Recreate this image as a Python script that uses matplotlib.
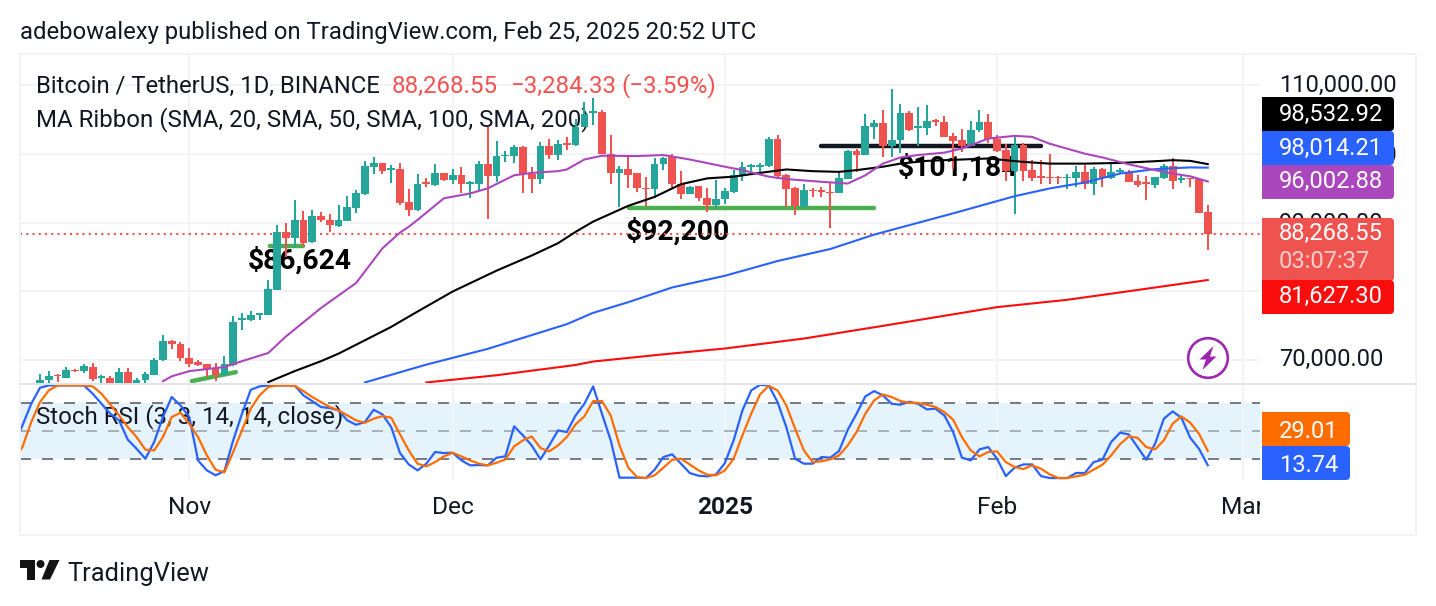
import numpy as np
import matplotlib
matplotlib.use("Agg")
import matplotlib.pyplot as plt
from matplotlib.patches import Rectangle, FancyBboxPatch, Circle, Polygon
from matplotlib.transforms import Affine2D

W, H = 1436, 606
plt.rcParams['font.family'] = ['Roboto', 'DejaVu Sans']

# Daily BTC/USDT candles, in thousands of USD; day 0 is 1 Feb 2025
candle_days = np.arange(-109, 25)
opens = [66.4,67.0,67.85,67.3,68.55,68.3,69.0,67.4,67.35,66.4,68.2,66.4,67.0,67.85,69.9,72.7,72.35,70.3,69.65,69.4,
         68.8,67.75,69.3,75.85,75.75,76.6,76.6,80.2,88.6,87.8,90.4,87.2,90.95,90.45,89.55,90.3,92.15,94.15,98.15,98.75,
         97.7,97.8,92.95,91.85,
         95.95,95.45,97.3,96.2,97.0,95.65,95.6,98.5,96.8,99.7,99.7,101.05,97.15,96.35,101.15,99.85,101.55,101.3,103.95,105.95,
         106.15,100.05,97.25,97.8,97.25,95.1,94.85,98.5,99.6,95.7,94.15,95.3,93.65,92.55,93.5,94.5,96.8,98.05,98.15,98.25,
         102.15,96.9,95.0,92.3,94.75,94.75,
         94.5,94.35,96.4,100.4,99.85,103.95,104.45,101.2,102.1,106.05,103.8,103.85,104.9,104.6,102.6,102.0,101.15,103.45,104.65,
         102.25,100.55,97.5,101.3,97.65,96.7,96.65,96.65,96.45,96.45,97.35,95.6,97.8,96.55,97.4,97.45,96.05,95.85,95.45,96.55,
         98.2,96.15,96.45,96.3,91.55]
highs = [68.0,68.4,68.0,69.0,68.7,69.4,69.5,67.85,67.6,68.8,68.8,67.4,68.2,70.3,73.6,72.95,72.55,71.65,69.9,69.45,
         69.55,70.6,76.4,76.85,77.1,76.85,81.65,89.6,89.9,93.3,91.7,91.8,91.55,91.3,92.55,93.85,94.75,98.95,99.5,98.75,
         98.45,98.75,94.85,97.15,
         96.45,98.5,97.3,97.8,98.05,96.1,98.95,103.95,101.85,100.45,101.3,101.15,98.15,101.75,102.25,102.0,102.5,105.15,107.6,108.2,
         106.45,102.75,98.2,99.6,97.3,96.6,99.45,99.6,99.95,97.5,95.3,95.3,95.0,96.2,95.0,97.65,98.85,98.6,98.7,102.5,
         102.75,97.15,95.2,95.7,95.1,95.25,
         95.85,97.4,100.55,100.7,105.8,104.9,106.35,109.5,107.25,106.25,106.8,107.1,105.15,105.5,103.1,103.7,104.75,106.35,105.9,
         102.75,101.4,102.5,101.65,99.1,99.1,100.05,96.75,97.15,98.2,98.35,98.05,98.0,98.85,97.9,97.65,97.0,96.75,96.7,98.6,
         99.35,96.75,96.5,96.5,92.55]
lows = [66.0,66.4,66.7,67.3,68.2,68.15,66.9,66.6,66.2,66.2,66.0,66.2,66.6,67.75,69.8,71.6,69.8,68.95,69.05,67.55,
        66.9,67.6,69.15,74.4,75.6,75.75,76.5,80.2,85.05,86.25,86.6,87.1,90.15,88.6,89.3,90.3,91.45,94.0,97.05,97.05,
        95.8,92.55,90.9,91.75,
        95.25,95.3,96.1,95.6,94.25,93.65,94.65,90.6,95.85,98.85,98.7,94.25,94.25,95.7,99.25,99.1,100.65,101.15,103.95,104.2,
        100.0,95.6,92.3,95.0,94.5,92.45,93.65,97.65,95.0,93.45,94.15,93.15,91.6,92.05,92.7,94.35,96.1,97.5,97.25,98.15,
        96.3,92.3,91.1,92.15,93.75,93.75,
        89.25,94.35,96.3,97.4,99.85,102.15,99.6,99.6,100.15,103.35,101.15,102.75,104.1,102.5,97.75,100.3,101.15,103.2,101.6,
        100.3,96.1,91.25,96.1,96.1,95.7,95.7,95.7,94.85,95.2,94.9,94.0,95.2,96.3,97.05,95.9,95.15,93.3,95.05,96.3,
        94.85,95.8,95.15,91.35,86.0]
closes = [67.1,67.7,67.6,68.45,68.3,69.05,67.2,67.6,66.4,68.2,66.4,67.0,67.9,70.0,72.75,72.25,70.2,69.4,69.25,68.7,
          67.75,69.4,75.5,76.1,76.6,76.85,80.3,88.6,87.8,90.4,87.1,90.95,90.4,89.65,90.4,92.25,94.25,98.2,98.75,97.5,
          97.9,92.9,91.85,95.7,
          95.7,97.3,96.2,97.0,95.6,95.85,98.5,96.8,99.65,99.9,101.05,97.05,96.35,101.15,99.85,101.45,101.25,103.95,105.9,106.25,
          100.0,97.25,97.75,97.0,95.0,94.85,98.6,99.35,95.6,94.15,95.2,93.6,92.55,93.5,94.6,96.9,98.05,98.35,98.35,102.15,
          96.8,94.9,92.45,94.75,94.55,94.5,
          94.3,96.45,100.4,99.85,104.05,104.45,101.2,102.1,106.05,103.45,104.05,104.75,104.65,102.5,101.9,101.2,103.55,104.65,102.15,
          100.4,97.5,101.3,97.5,96.55,96.55,96.45,96.45,96.65,97.35,95.6,97.8,96.55,97.4,97.65,95.95,95.55,95.65,96.6,98.2,
          96.1,96.5,96.3,91.45,88.26855]

# Moving-average ribbon, read at irregular days
sma20_days = [-95,-94,-92,-88,-86,-83,-81,-77,-73,-70,-68,-67,-66,-65,-63,-60,-58,-55,-53,-50,-49,-47,-45,-41,-38,-35,
              -31,-29,-26,-24,-20,-17,-15,-13,-11,-9,-6,-4,-1,2,4,6,10,12,15,18,20,22,24]
sma20 = [66.88,67.6,68.35,68.95,69.8,71.0,73.4,77.55,81.2,86.25,88.55,89.4,90.4,91.45,93.55,94.25,95.0,96.9,97.25,97.5,
         97.75,99.2,99.75,99.7,99.85,99.2,98.15,97.65,96.7,96.35,95.95,95.7,96.9,98.6,99.5,99.85,100.2,100.8,102.25,102.65,
         102.5,101.5,100.05,99.5,98.5,97.65,97.15,96.75,96.0]
sma50_days = [-83,-80,-77,-75,-72,-69,-67,-62,-57,-53,-50,-48,-46,-42,-39,-36,-33,-30,-27,-24,-21,-18,-16,-13,-11,-8,-1,
              3,6,10,14,18,20,22,24]
sma50 = [66.75,68.35,69.8,70.9,72.85,74.8,76.3,79.96,83.0,85.2,87.0,88.65,90.15,92.45,93.75,95.6,96.45,96.7,97.25,97.75,
         97.5,97.4,97.65,98.15,98.6,99.0,99.35,98.85,98.6,98.6,98.7,98.95,99.1,99.0,98.53]
sma100_days = [-72,-65,-58,-53,-49,-46,-42,-37,-31,-25,-19,-14,-5,2,6,10,14,18,22,24]
sma100 = [66.7,69.3,71.6,73.6,75.2,76.85,78.4,80.55,82.25,84.4,86.15,88.25,91.35,93.85,94.98,95.85,97.15,97.8,98.05,98.01]
sma200_days = [-65,-57,-48,-46,-38,-31,-22,-13,0,8,15,24]
sma200 = [66.7,67.75,69.25,69.75,70.8,71.65,73.1,74.95,77.68,78.75,80.0,81.63]

# Stochastic RSI, one value per day from day -112
stoch_days = np.arange(-112, 25)
stoch_k = [35.0,56.4,79.6,96.8,99.3,99.3,99.3,99.3,99.3,90.4,79.6,68.9,61.8,41.1,31.4,20.7,38.6,65.4,86.8,77.9,65.4,
           18.9,8.2,2.9,7.5,40.4,68.9,94.6,98.2,99.3,99.3,99.3,99.3,88.6,82.5,76.1,75.0,72.5,61.8,57.1,60.0,73.2,68.2,
           54.6,26.8,14.6,8.2,15.4,27.9,26.8,27.1,18.9,13.6,13.9,13.6,21.8,23.2,55.4,45.7,35.0,20.0,35.0,51.1,49.3,67.1,
           79.6,98.2,68.9,40.4,0.4,0.4,0.4,0.0,8.9,22.5,25.4,15.4,5.4,2.5,1.8,3.9,16.1,40.4,72.5,93.9,99.9,99.3,81.4,54.6,
           20.7,15.4,15.4,22.5,21.8,28.9,51.8,68.9,87.5,93.2,88.6,79.6,78.6,81.8,79.6,73.6,74.3,67.1,49.3,21.8,18.9,30.7,
           33.2,20.7,2.1,11.1,14.6,14.6,2.1,0.0,0.0,0.0,5.4,5.4,17.1,19.6,38.6,48.6,46.8,33.2,19.6,36.8,63.6,71.4,64.6,
           43.2,31.4,13.74]
stoch_d = [20.0,33.2,60.0,81.4,93.9,99.3,99.3,99.3,99.3,98.2,90.4,78.9,67.1,54.6,43.9,30.4,29.6,43.9,65.4,70.0,58.2,
           43.9,24.3,8.9,6.1,27.9,51.1,74.3,88.6,97.5,99.3,99.3,98.9,93.2,86.8,81.4,76.1,72.5,67.1,61.8,59.3,63.6,66.4,
           64.6,46.8,29.6,15.4,12.5,17.1,23.2,27.1,23.2,18.9,15.4,13.6,16.4,20.0,33.9,40.4,44.6,32.1,28.6,35.0,43.9,57.5,
           66.1,82.5,82.5,67.1,35.0,11.1,1.1,0.0,2.9,11.1,19.6,20.7,14.6,8.2,3.6,2.9,8.2,20.7,45.7,68.9,89.6,98.9,93.9,77.9,
           52.9,29.6,17.1,17.9,20.0,24.3,35.0,49.3,68.9,83.2,89.6,86.8,82.5,80.7,80.4,78.6,76.1,70.7,62.5,43.9,29.6,23.2,
           27.9,28.6,17.1,11.8,9.6,13.6,10.0,3.9,0.0,0.0,1.8,3.6,8.9,14.3,24.3,36.1,44.6,43.2,33.2,30.7,40.4,58.2,66.1,59.3,
           47.5,29.01]

price_ticks = [70, 80, 90, 100, 110]
month_days = [-92, -62, -31, 0, 28]
month_labels = ['Nov', 'Dec', '2025', 'Feb', 'Mar']

# Support and resistance drawings: (start day, end day), (start price, end price)
support_days = [[-91.7, -86.7], [-82.8, -79.1], [-41.9, -14.0]]
support_prices = [[66.9, 68.2], [86.62, 86.62], [92.2, 92.2]]
resist_days = [-20.0, 5.0]
resist_prices = [101.18, 101.18]

CANDLE_UP, CANDLE_DOWN = '#26a69a', '#ef5350'
INK = '#131722'
GRID = '#f1f3f6'
BLUE, PURPLE, RED, ORANGE = '#2962ff', '#ab47bc', '#f90d0d', '#ff6d00'

fig = plt.figure(figsize=(W / 100, H / 100), dpi=100, facecolor='white')
PX = Affine2D().scale(1, -1).translate(0, H)  # figure pixels, y downwards


def add_axes(x0, y0, x1, y1, **kw):
    ax = fig.add_axes([x0 / W, 1 - y1 / H, (x1 - x0) / W, (y1 - y0) / H], **kw)
    ax.set_axis_off()
    ax.patch.set_visible(False)
    return ax


def fs(px):
    return px * 0.72


UI = fs(23.8)
LEGEND = fs(24)
XLIM = (-111.28, 29.95)
ax_price = add_axes(20, 54, 1260, 383)
ax_price.set_xlim(*XLIM)
ax_price.set_ylim(66.62, 114.58)
ax_stoch = add_axes(20, 384, 1260, 480)
ax_stoch.set_xlim(*XLIM)
ax_stoch.set_ylim(-2.1, 100.8)
ax_time = add_axes(20, 480, 1260, 535)
ax_time.set_xlim(*XLIM)
ax_time.set_ylim(0, 1)
ax_labels = add_axes(0, 0, W, H)
ax_labels.set_xlim(0, W)
ax_labels.set_ylim(H, 0)

# Frame and pane separator
for seg in (((20, 20), (54, 535)), ((1416, 1416), (54, 535)), ((20, 1416), (54, 54)), ((20, 1416), (535, 535))):
    ax_labels.plot(seg[0], seg[1], color=GRID, lw=1.44, zorder=0)
ax_labels.plot((20, 1416), (384, 384), color='#e0e3eb', lw=1.44, zorder=0.5)

# Grid
for p in price_ticks:
    ax_price.axhline(p, color=GRID, lw=1.44, zorder=1)
for d in month_days:
    ax_price.axvline(d, color=GRID, lw=1.44, zorder=1)
    ax_stoch.axvline(d, color=GRID, lw=1.44, zorder=3)

# Legend text and drawings sit underneath the candles
ax_price.text(36, 86, 'Bitcoin / TetherUS, 1D, BINANCE', transform=PX, color=INK, fontsize=fs(23.9), va='center', zorder=2)
ax_price.text(392, 86, '88,268.55', transform=PX, color=CANDLE_DOWN, fontsize=LEGEND, va='center', zorder=2)
ax_price.text(510, 86, '\u22123,284.33', transform=PX, color=CANDLE_DOWN, fontsize=LEGEND, va='center', zorder=2)
ax_price.text(621, 86, '(\u22123.59%)', transform=PX, color=CANDLE_DOWN, fontsize=LEGEND, va='center', zorder=2)
ax_price.text(36, 120, 'MA Ribbon (SMA, 20, SMA, 50, SMA, 100, SMA, 200)', transform=PX, color=INK,
              fontsize=LEGEND, va='center', zorder=2)

for dd, pp in zip(support_days, support_prices):
    ax_price.plot(dd, pp, color='#4caf50', lw=3.2, solid_capstyle='round', zorder=2.5, clip_on=True)
ax_price.plot(resist_days, resist_prices, color=INK, lw=3.2, solid_capstyle='round', zorder=2.5)
for label, x, y in (('$86,624', 248, 261), ('$92,200', 626, 232), ('$101,184', 898, 168)):
    ax_price.text(x, y, label, transform=PX, color='black', fontsize=fs(28.2), fontweight='bold',
                  va='center', zorder=2.6)

# Candles
up = np.array(closes) >= np.array(opens)
colors = [CANDLE_UP if u else CANDLE_DOWN for u in up]
ax_price.vlines(candle_days, lows, highs, colors=colors, lw=1.44, zorder=5)
bottoms = np.minimum(opens, closes)
heights = np.maximum(np.abs(np.array(closes) - np.array(opens)), 0.18)
ax_price.bar(candle_days, heights, bottom=bottoms, width=0.88, color=colors, linewidth=0, zorder=5)

# Moving averages
ax_price.plot(sma200_days, sma200, color=RED, lw=1.5, zorder=6)
ax_price.plot(sma100_days, sma100, color=BLUE, lw=1.5, zorder=6)
ax_price.plot(sma50_days, sma50, color='black', lw=1.5, zorder=6)
ax_price.plot(sma20_days, sma20, color=PURPLE, lw=1.5, zorder=6)

# Last price line
ax_price.axhline(closes[-1], color=CANDLE_DOWN, lw=1.5, linestyle=(0, (1, 2)), zorder=4)

# Stochastic RSI pane
ax_stoch.axhspan(20, 80, color='#e5f3fd', lw=0, zorder=1)
ax_stoch.axhline(80, color='#787b86', lw=1.44, linestyle=(0, (5.5, 5.5)), zorder=4)
ax_stoch.axhline(50, color='#787b86', lw=1.44, alpha=0.55, linestyle=(0, (5.5, 5.5)), zorder=4)
ax_stoch.axhline(20, color='#787b86', lw=1.44, linestyle=(0, (5.5, 5.5)), zorder=4)
ax_stoch.text(36, 417, 'Stoch RSI (3, 3, 14, 14, close)', transform=PX, color=INK, fontsize=LEGEND, va='center', zorder=4.5)
ax_stoch.plot(stoch_days, stoch_k, color=BLUE, lw=1.6, zorder=5)
ax_stoch.plot(stoch_days, stoch_d, color=ORANGE, lw=1.6, zorder=6)

# Date axis
for d, label in zip(month_days, month_labels):
    ax_time.text(d, 0.5, label, color=INK, fontsize=fs(24.5), ha='center', va='center', clip_on=True,
                 fontweight='bold' if label == '2025' else 'normal')

# Price scale
for label, y in (('110,000.00', 85.5), ('100,000.00', 155), ('90,000.00', 223), ('70,000.00', 359)):
    ax_labels.text(1279, y, label, color=INK, fontsize=UI, va='center', zorder=2)


def price_tag(y0, y1, color, rows, right=1394):
    ax_labels.add_patch(FancyBboxPatch((1262 + 4, y0), right - 1262 - 4, y1 - y0,
                                       boxstyle='round,pad=0,rounding_size=4', fc=color, ec='none', zorder=3))
    ax_labels.add_patch(Rectangle((1262, y0), 8, y1 - y0, fc=color, ec='none', zorder=3))
    for text, y, col in rows:
        ax_labels.text(1279, y, text, color=col, fontsize=UI, va='center', zorder=4)


price_tag(97, 131, 'black', [('98,532.92', 114, 'white')])
price_tag(131, 165, BLUE, [('98,014.21', 148, 'white')])
price_tag(165, 199, PURPLE, [('96,002.88', 181.5, 'white')])
price_tag(218, 281, CANDLE_DOWN, [('88,268.55', 233.5, 'white'), ('03:07:37', 261.5, '#fbcfce')])
price_tag(280, 314, '#f90d0d', [('81,627.30', 296, 'white')])
price_tag(412, 446, ORANGE, [('29.01', 431, 'white')], right=1350)
price_tag(446, 480, BLUE, [('13.74', 465, 'white')], right=1350)

# Lightning badge
ax_labels.add_patch(Circle((1208, 358), 24, fc='white', ec='none', zorder=7))
ax_labels.add_patch(Circle((1208, 358), 19.8, fc='white', ec='#9c27b0', lw=1.9, zorder=7.1))
ax_labels.add_patch(Polygon([(1213.5, 346), (1199.5, 359.5), (1206, 359.5), (1202.5, 370),
                             (1216.5, 356.5), (1210, 356.5)], closed=True, fc='#9c27b0', ec='none', zorder=7.2))

# Header and footer
ax_labels.text(20, 32.5, 'adebowalexy published on TradingView.com, Feb 25, 2025 20:52 UTC', color=INK,
               fontsize=fs(23.87), va='center')
ax_labels.add_patch(Polygon([(20, 560), (35, 560), (35, 579.5), (27, 579.5), (27, 568), (20, 568)], fc='#131313', ec='none'))
ax_labels.add_patch(Circle((40.5, 564), 4, fc='#131313', ec='none'))
ax_labels.add_patch(Polygon([(49.5, 560), (59.5, 560), (50, 579.5), (41.5, 579.5)], fc='#131313', ec='none'))
ax_labels.text(67, 574, 'TradingView', color=INK, fontsize=fs(25.5), va='center')

fig.savefig('out.png', dpi=100, facecolor='white')
